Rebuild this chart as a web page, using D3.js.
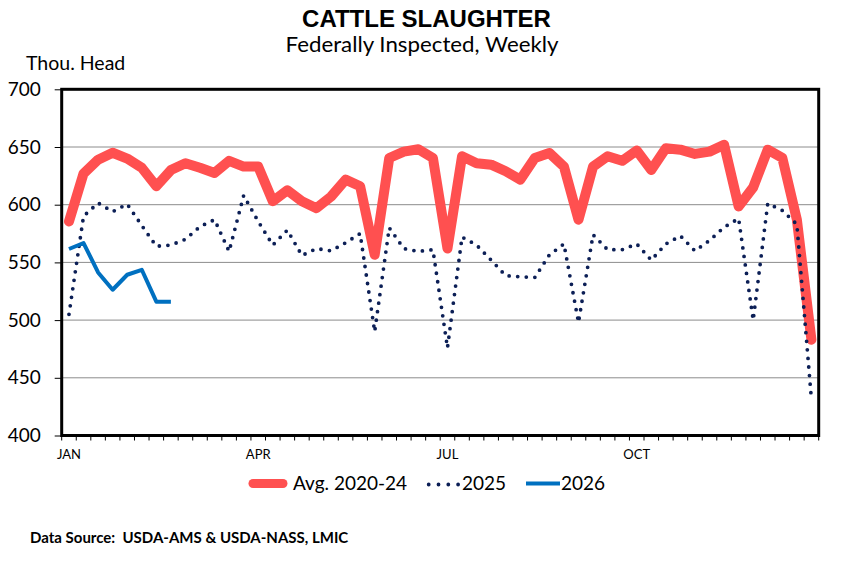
<!DOCTYPE html>
<html>
<head>
<meta charset="utf-8">
<script src="https://cdn.jsdelivr.net/npm/d3@7"></script>
<style>
  body { margin: 0; background: #fff; }
  text { font-family: Lato, 'Open Sans', sans-serif; fill: #000; }
</style>
</head>
<body>
<div id="chart"></div>
<script>
// weekly slaughter, thousand head (52 weeks)
const weeks = d3.range(1, 53);
const avg2020to24 = [
  585.5, 627, 639, 645, 640, 632, 616, 630, 636, 632, 627.5, 638, 633,
  633, 603, 612.5, 603, 597, 607, 621.7, 616, 556.6, 640.5, 646, 648, 640.5,
  562, 642, 636, 634.7, 629, 621.7, 640.5, 644.8, 633, 587, 633, 642, 638,
  647, 630, 649, 647.7, 644, 646, 652, 598.5, 615, 647.7, 640.5, 587, 483,
];
const y2025 = [
  505, 590, 601.5, 594, 600.5, 582, 564, 565, 570, 581, 587, 559.5, 608,
  585.5, 565, 578, 556, 562, 560, 567, 575, 490, 580, 562, 559.5, 561,
  476, 572, 565, 552, 538.5, 537.5, 537, 556.5, 566, 498, 574, 561, 561,
  566, 552, 566, 573, 560, 569, 580.5, 588, 500, 601, 595, 583, 431.5,
];
const y2026 = [561.6, 566.8, 541.3, 526.3, 539.3, 543.6, 516, 516];
const monthLabels = [
  { week: 1, label: 'JAN' },
  { week: 14, label: 'APR' },
  { week: 27, label: 'JUL' },
  { week: 40, label: 'OCT' },
];
const yTicks = [400, 450, 500, 550, 600, 650, 700];

const width = 843;
const height = 566;
const plot = { left: 61.7, right: 818.7, top: 89.3, bottom: 435.5 };

const svg = d3.select('#chart')
  .append('svg')
  .attr('width', width)
  .attr('height', height);

const x = d3.scaleBand()
  .domain(weeks)
  .range([plot.left, plot.right])
  .padding(0);
const y = d3.scaleLinear()
  .domain([400, 700])
  .range([plot.bottom, plot.top]);
const cx = (w) => x(w) + x.bandwidth() / 2;

// titles
svg.append('text')
  .attr('x', 426.5).attr('y', 27)
  .attr('text-anchor', 'middle')
  .style('font-family', "'Liberation Sans', Arial, sans-serif")
  .style('font-weight', 'bold')
  .style('font-size', '24px')
  .text('CATTLE SLAUGHTER');
svg.append('text')
  .attr('x', 285.5).attr('y', 52)
  .attr('textLength', 273)
  .attr('lengthAdjust', 'spacingAndGlyphs')
  .style('font-size', '20.5px')
  .text('Federally Inspected, Weekly');
svg.append('text')
  .attr('x', 26).attr('y', 70)
  .style('font-size', '19.5px')
  .text('Thou. Head');

// gridlines
svg.append('g')
  .selectAll('line')
  .data(yTicks.filter((t) => t > 400 && t < 700))
  .join('line')
  .attr('x1', plot.left).attr('x2', plot.right)
  .attr('y1', (d) => y(d)).attr('y2', (d) => y(d))
  .attr('stroke', '#8c8c8c')
  .attr('stroke-width', 1);

// y axis
const yAxis = svg.append('g')
  .attr('transform', `translate(${plot.left},0)`)
  .call(d3.axisLeft(y).tickValues(yTicks).tickSize(7).tickPadding(14));
yAxis.select('.domain').remove();
yAxis.selectAll('.tick line').attr('stroke', '#000');
yAxis.selectAll('.tick text')
  .style('font-family', 'Lato, sans-serif')
  .style('font-size', '19px')
  .attr('fill', '#000');

// x axis: a tick between every week, labels at quarter starts
svg.append('g')
  .selectAll('line')
  .data(d3.range(0, 53))
  .join('line')
  .attr('x1', (i) => plot.left + i * x.step())
  .attr('x2', (i) => plot.left + i * x.step())
  .attr('y1', plot.bottom)
  .attr('y2', plot.bottom + 5)
  .attr('stroke', '#000');
svg.append('g')
  .selectAll('text')
  .data(monthLabels)
  .join('text')
  .attr('x', (d) => cx(d.week))
  .attr('y', 459)
  .attr('text-anchor', 'middle')
  .style('font-size', '13px')
  .text((d) => d.label);

// series
const line = d3.line()
  .x((d, i) => cx(weeks[i]))
  .y((d) => y(d));

svg.append('path')
  .datum(avg2020to24)
  .attr('fill', 'none')
  .attr('stroke', '#ff5050')
  .attr('stroke-width', 10)
  .attr('stroke-linejoin', 'round')
  .attr('stroke-linecap', 'round')
  .attr('d', line);

svg.append('path')
  .datum(y2025)
  .attr('fill', 'none')
  .attr('stroke', '#0c1f56')
  .attr('stroke-width', 3.8)
  .attr('stroke-linecap', 'round')
  .attr('stroke-dasharray', '0 8.6')
  .attr('d', line);

svg.append('path')
  .datum(y2026)
  .attr('fill', 'none')
  .attr('stroke', '#0070c0')
  .attr('stroke-width', 4)
  .attr('stroke-linejoin', 'round')
  .attr('d', line);

// plot frame
svg.append('rect')
  .attr('x', plot.left).attr('y', plot.top)
  .attr('width', plot.right - plot.left)
  .attr('height', plot.bottom - plot.top)
  .attr('fill', 'none')
  .attr('stroke', '#000')
  .attr('stroke-width', 3);

// legend
const legend = svg.append('g');
const legendY = 483.5;
legend.append('line')
  .attr('x1', 253).attr('x2', 283)
  .attr('y1', legendY).attr('y2', legendY)
  .attr('stroke', '#ff5050').attr('stroke-width', 9).attr('stroke-linecap', 'round');
legend.append('text')
  .attr('x', 293).attr('y', 490)
  .style('font-size', '19px')
  .text('Avg. 2020-24');
legend.append('line')
  .attr('x1', 428.7).attr('x2', 460)
  .attr('y1', legendY + 1).attr('y2', legendY + 1)
  .attr('stroke', '#0c1f56').attr('stroke-width', 3.8)
  .attr('stroke-linecap', 'round').attr('stroke-dasharray', '0 9.8');
legend.append('text')
  .attr('x', 462).attr('y', 490)
  .style('font-size', '19px')
  .text('2025');
legend.append('line')
  .attr('x1', 526).attr('x2', 560)
  .attr('y1', legendY).attr('y2', legendY)
  .attr('stroke', '#0070c0').attr('stroke-width', 4);
legend.append('text')
  .attr('x', 561).attr('y', 490)
  .style('font-size', '19px')
  .text('2026');

// source
svg.append('text')
  .attr('x', 30).attr('y', 543)
  .style('font-weight', 'bold')
  .style('font-size', '15px')
  .attr('xml:space', 'preserve')
  .text('Data Source:  USDA-AMS & USDA-NASS, LMIC');
</script>
</body>
</html>
